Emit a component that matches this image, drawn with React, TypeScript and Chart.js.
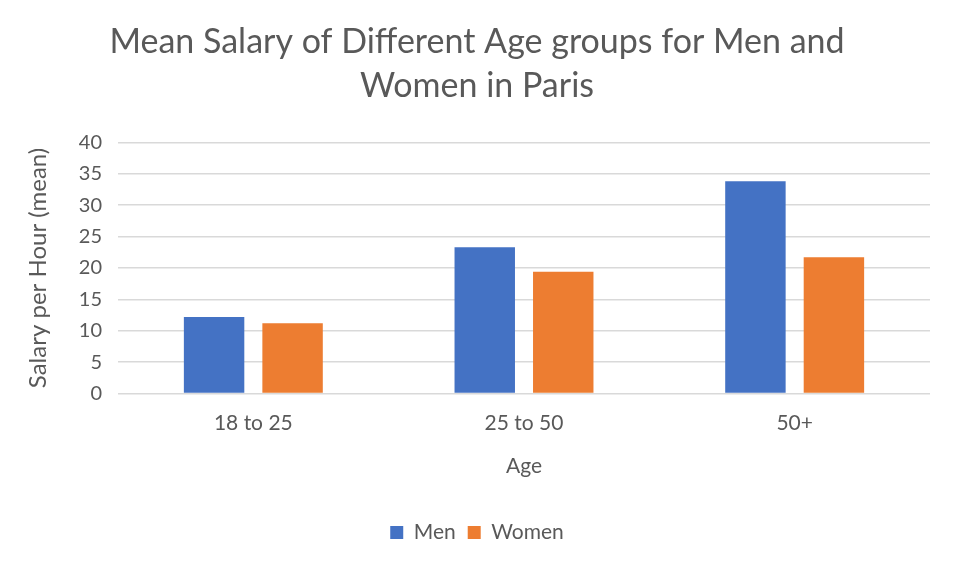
import { useEffect, useRef } from "react"
import { Chart, registerables } from "chart.js"

Chart.register(...registerables)

const ageGroups = ["18 to 25", "25 to 50", "50+"]
const menSalary = [12.2, 23.3, 33.8]
const womenSalary = [11.2, 19.4, 21.7]

const textColor = "#595959"
const fontFamily = "Lato, 'Open Sans', sans-serif"

export default function App() {
  const canvasRef = useRef<HTMLCanvasElement>(null)
  const chartRef = useRef<Chart | null>(null)

  useEffect(() => {
    document.body.style.margin = "0"
    if (!canvasRef.current) return
    if (chartRef.current) chartRef.current.destroy()

    chartRef.current = new Chart(canvasRef.current, {
      type: "bar",
      data: {
        labels: ageGroups,
        datasets: [
          {
            label: "Men",
            data: menSalary,
            backgroundColor: "#4472C4",
            barPercentage: 0.77,
            categoryPercentage: 0.58,
          },
          {
            label: "Women",
            data: womenSalary,
            backgroundColor: "#ED7D31",
            barPercentage: 0.77,
            categoryPercentage: 0.58,
          },
        ],
      },
      options: {
        animation: false,
        responsive: false,
        layout: { padding: { top: 20, left: 24, right: 24, bottom: 19 } },
        plugins: {
          title: {
            display: true,
            text: ["Mean Salary of Different Age groups for Men and", "Women in Paris"],
            color: textColor,
            font: { family: fontFamily, size: 34, weight: "normal", lineHeight: 1.3 },
            padding: { top: 0, bottom: 34 },
          },
          legend: {
            position: "bottom",
            labels: {
              color: textColor,
              font: { family: fontFamily, size: 21 },
              boxWidth: 13,
              boxHeight: 13,
              padding: 12,
            },
          },
          tooltip: { enabled: false },
        },
        scales: {
          x: {
            grid: { display: false },
            border: { display: false },
            ticks: { color: textColor, font: { family: fontFamily, size: 21 }, padding: 9 },
            title: {
              display: true,
              text: "Age",
              color: textColor,
              font: { family: fontFamily, size: 21 },
              padding: { top: 9, bottom: 31 },
            },
          },
          y: {
            min: 0,
            max: 40,
            ticks: { stepSize: 5, color: textColor, font: { family: fontFamily, size: 20 }, padding: 16 },
            grid: { color: "#d9d9d9", lineWidth: 1.5, drawTicks: false },
            border: { display: false },
            title: {
              display: true,
              text: "Salary per Hour (mean)",
              color: textColor,
              font: { family: fontFamily, size: 24 },
              padding: { top: 0, bottom: 10 },
            },
          },
        },
      },
    })

    return () => {
      chartRef.current?.destroy()
      chartRef.current = null
    }
  }, [])

  return (
    <div style={{ width: 954, height: 572 }}>
      <canvas ref={canvasRef} width={954} height={572} />
    </div>
  )
}
